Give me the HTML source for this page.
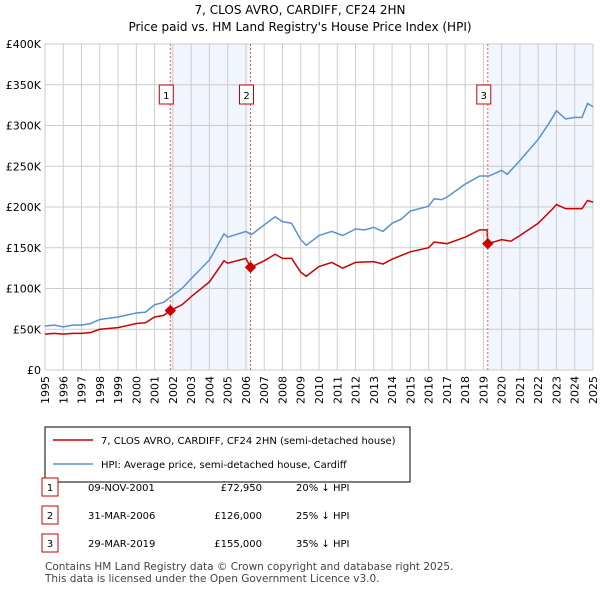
<!DOCTYPE html><html><head><meta charset="utf-8"><style>
body{margin:0;background:#fff;font-family:"DejaVu Sans","Liberation Sans",sans-serif;}
</style></head><body>
<svg width="600" height="590" xmlns="http://www.w3.org/2000/svg" font-family="DejaVu Sans, Liberation Sans, sans-serif">
<text x="300" y="14" text-anchor="middle" font-size="12">7, CLOS AVRO, CARDIFF, CF24 2HN</text>
<text x="300" y="31" text-anchor="middle" font-size="12">Price paid vs. HM Land Registry's House Price Index (HPI)</text>
<g id="shade"></g><g id="grid"></g><g id="axes"></g><g id="series"></g><g id="marks"></g>
<rect x="45" y="427" width="365" height="55" fill="#fff" stroke="#000"/>
<line x1="53" y1="440" x2="93" y2="440" stroke="#cc0000" stroke-width="1.5"/>
<text x="101" y="444" font-size="10">7, CLOS AVRO, CARDIFF, CF24 2HN (semi-detached house)</text>
<line x1="53" y1="464" x2="93" y2="464" stroke="#5b8fd0" stroke-width="1.5"/>
<text x="101" y="468" font-size="10">HPI: Average price, semi-detached house, Cardiff</text>
<g id="table" font-size="10"></g>
<text x="45" y="570" font-size="10.5" fill="#444">Contains HM Land Registry data © Crown copyright and database right 2025.</text>
<text x="45" y="582" font-size="10.5" fill="#444">This data is licensed under the Open Government Licence v3.0.</text>
</svg>
<script>
const yearTicks=[1995,1996,1997,1998,1999,2000,2001,2002,2003,2004,2005,2006,2007,2008,2009,2010,2011,2012,2013,2014,2015,2016,2017,2018,2019,2020,2021,2022,2023,2024,2025];
const valueTicks=[0,50,100,150,200,250,300,350,400];
const valueLabels=["£0","£50K","£100K","£150K","£200K","£250K","£300K","£350K","£400K"];
const hpiYears=[1995,1995.5,1996,1996.5,1997,1997.5,1998,1999,2000,2000.5,2001,2001.5,2001.9,2002.5,2003,2004,2004.8,2005,2006,2006.3,2007,2007.6,2008,2008.5,2009,2009.3,2010,2010.7,2011.3,2012,2012.5,2013,2013.5,2014,2014.5,2015,2016,2016.3,2016.7,2017,2018,2018.8,2019.3,2020,2020.3,2021,2022,2022.6,2023,2023.5,2024,2024.4,2024.7,2025];
const hpiValues=[54,55,53,55,55,57,62,65,70,71,80,83,90,100,112,135,167,163,170,166,178,188,182,180,160,153,165,170,165,173,172,175,170,180,185,195,201,210,209,212,228,238,238,245,240,257,283,303,318,308,310,310,327,323];
const priceYears=[1995,1995.5,1996,1996.5,1997,1997.5,1998,1999,2000,2000.5,2001,2001.5,2001.86,2002.5,2003,2004,2004.8,2005,2006,2006.25,2007,2007.6,2008,2008.5,2009,2009.3,2010,2010.7,2011.3,2012,2013,2013.5,2014,2015,2016,2016.3,2017,2018,2018.8,2019.2,2019.24,2020,2020.5,2021,2022,2022.8,2023,2023.5,2024,2024.4,2024.7,2025];
const priceValues=[44,45,44,45,45,46,50,52,57,58,65,67,72.95,80,90,108,134,131,137,126,134,142,137,137,120,115,127,132,125,132,133,130,136,145,150,157,155,163,172,172,155,160,158,165,180,198,203,198,198,198,208,206];
const saleYears=[2001.86,2006.25,2019.24];
const saleValues=[72.95,126,155];
const saleLabels=["1","2","3"];
const saleDates=["09-NOV-2001","31-MAR-2006","29-MAR-2019"];
const salePrices=["£72,950","£126,000","£155,000"];
const saleDiffs=["20% ↓ HPI","25% ↓ HPI","35% ↓ HPI"];
const NS="http://www.w3.org/2000/svg";
const X0=45,X1=593,Y0=370,Y1=44;
const x=y=>X0+(y-1995)/30*(X1-X0);
const yv=v=>Y0-v/400*(Y0-Y1);
function mk(t,a,p){const e=document.createElementNS(NS,t);for(const k in a)e.setAttribute(k,a[k]);document.getElementById(p).appendChild(e);return e;}
let r=mk('rect',{x:x(saleYears[0]),y:Y1,width:x(saleYears[1])-x(saleYears[0]),height:Y0-Y1,fill:'#eef3fc',opacity:0.8},'shade');


r=mk('rect',{x:x(saleYears[2]),y:Y1,width:X1-x(saleYears[2]),height:Y0-Y1,fill:'#eef3fc',opacity:0.8},'shade');


yearTicks.forEach(t=>{
 let l=mk('line',{x1:x(t),x2:x(t),y1:Y1,y2:Y0,stroke:'#cccccc'},'grid');
 
 
 let tx=mk('text',{x:0,y:0,'font-size':11,'text-anchor':'end',transform:`translate(${x(t)+4},${Y0+6}) rotate(-90)`},'axes');
 tx.textContent=t;
 
 
});
valueTicks.forEach((v,i)=>{
 let l=mk('line',{x1:X0,x2:X1,y1:yv(v),y2:yv(v),stroke:'#cccccc'},'grid');
 
 
 let tx=mk('text',{x:X0-4,y:yv(v)+4,'font-size':11,'text-anchor':'end'},'axes');
 tx.textContent=valueLabels[i];
 
 
});
let p=mk('polyline',{points:hpiYears.map((t,i)=>x(t)+','+yv(hpiValues[i])).join(' '),fill:'none',stroke:'#5b8fd0','stroke-width':1.5},'series');


p=mk('polyline',{points:priceYears.map((t,i)=>x(t)+','+yv(priceValues[i])).join(' '),fill:'none',stroke:'#cc0000','stroke-width':1.5},'series');


saleYears.forEach((t,i)=>{
 let l=mk('line',{x1:x(t),x2:x(t),y1:Y1,y2:Y0,stroke:'#e06060','stroke-dasharray':'2,2'},'marks');
 
 
 let d=mk('rect',{x:x(t)-4,y:yv(saleValues[i])-4,width:8,height:8,fill:'#cc0000',transform:`rotate(45 ${x(t)} ${yv(saleValues[i])})`},'marks');
 
 
 let b=mk('rect',{x:x(t)-11,y:85,width:14,height:19,fill:'#fff',stroke:'#cc0000'},'marks');
 
 
 let tx=mk('text',{x:x(t)-4,y:99,'font-size':10,'text-anchor':'middle'},'marks');
 tx.textContent=saleLabels[i];
 
 
 const ry=487+i*28;
 let tb=mk('rect',{x:42,y:ry-9,width:16,height:18,fill:'#fff',stroke:'#cc0000'},'table');
 
 
 const cells=[[50,saleLabels[i],'middle'],[88,saleDates[i],'start'],[262,salePrices[i],'end'],[296,saleDiffs[i],'start']];
 cells.forEach(c=>{let e=mk('text',{x:c[0],y:ry+4,'text-anchor':c[2]},'table');e.textContent=c[1];
 
 });
});
</script>
</body></html>
